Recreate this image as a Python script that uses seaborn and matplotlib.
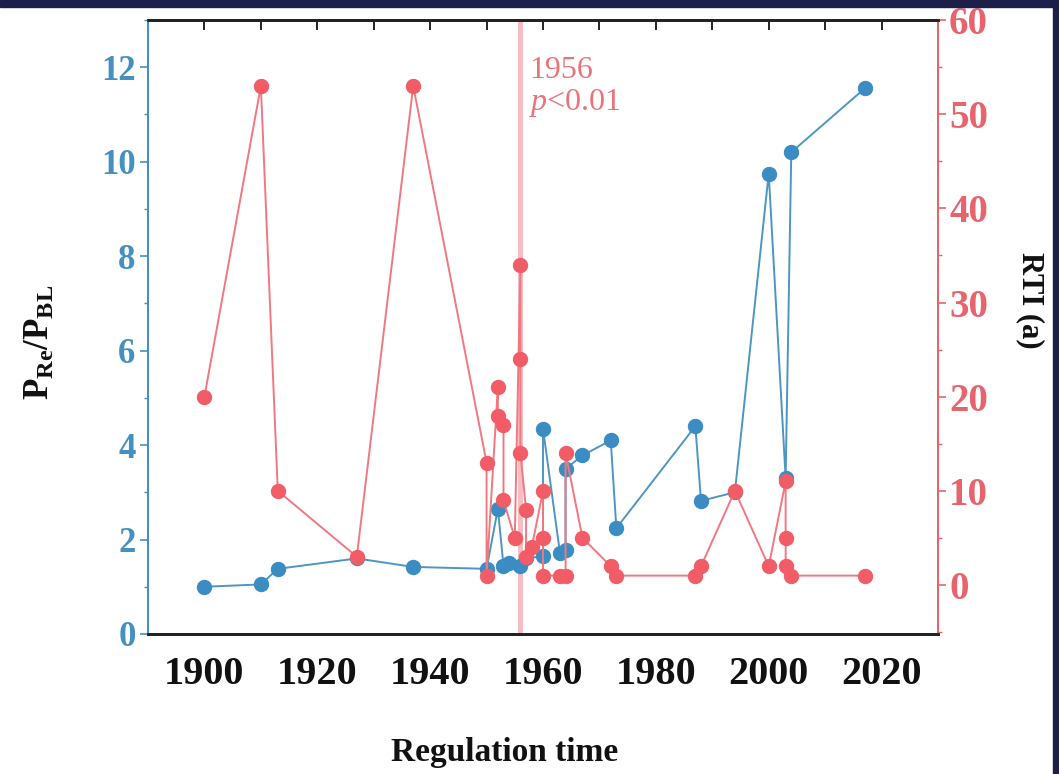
import matplotlib
matplotlib.use("Agg")
import matplotlib.pyplot as plt
from matplotlib.ticker import MultipleLocator
from matplotlib.patches import Rectangle
import numpy as np
import pandas as pd
import seaborn as sns

# P_Re / P_BL ratio by regulation year
ratio_years = [1900, 1910, 1913, 1927, 1937, 1950, 1952, 1953, 1954, 1956, 1957,
               1960, 1960, 1963, 1964, 1964, 1967, 1972, 1973, 1987, 1988, 1994,
               2000, 2003, 2004, 2017]
ratio_values = [1.0, 1.05, 1.38, 1.6, 1.42, 1.38, 2.65, 1.45, 1.5, 1.45, 1.6,
                1.65, 4.35, 1.72, 1.78, 3.5, 3.78, 4.1, 2.24, 4.4, 2.82, 3.0,
                9.75, 3.3, 10.2, 11.55]

# RTI (years) by regulation year
rti_years = [1900, 1910, 1913, 1927, 1937, 1950, 1950, 1952, 1952, 1953, 1953,
             1955, 1956, 1956, 1956, 1957, 1957, 1958, 1960, 1960, 1960, 1963,
             1964, 1964, 1967, 1972, 1973, 1987, 1988, 1994, 2000, 2003, 2003,
             2003, 2004, 2017]
rti_values = [20, 53, 10, 3, 53, 13, 1, 21, 18, 17, 9,
              5, 34, 24, 14, 8, 3, 4, 10, 5, 1, 1,
              1, 14, 5, 2, 1, 1, 2, 10, 2, 11, 5,
              2, 1, 1]

change_year = 1956
change_labels = ["1956", r"$\mathit{p}$<0.01"]

x_ticks = [1900, 1920, 1940, 1960, 1980, 2000, 2020]
left_ticks = [0, 2, 4, 6, 8, 10, 12]
right_ticks = [0, 10, 20, 30, 40, 50, 60]

BLUE = "#3a8cc3"
BLUE_LINE = "#4e96c2"
BLUE_TXT = "#4490c0"
RED = "#f25c66"
RED_LINE = "#f07880"
RED_TXT = "#e8646c"
PINK = "#f6adb3"

sns.set_theme(style="white")
plt.rcParams["font.family"] = ["Liberation Serif", "DejaVu Serif"]
plt.rcParams["mathtext.fontset"] = "custom"
plt.rcParams["mathtext.rm"] = "Liberation Serif"
plt.rcParams["mathtext.it"] = "Liberation Serif:italic"
plt.rcParams["mathtext.bf"] = "Liberation Serif:bold"

ratio_df = pd.DataFrame({"year": ratio_years, "ratio": ratio_values})
rti_df = pd.DataFrame({"year": rti_years, "rti": rti_values})

W, H = 1059, 774
fig = plt.figure(figsize=(W / 100, H / 100), dpi=100)
fig.patch.set_facecolor("white")
ax = fig.add_axes([148 / W, 1 - 634 / H, (938 - 148) / W, (634 - 20) / H])
ax2 = ax.twinx()

# change-point marker
ax.axvline(change_year, color=PINK, lw=3.6, alpha=0.8, zorder=1)

sns.lineplot(data=ratio_df, x="year", y="ratio", ax=ax, sort=False,
             estimator=None, color=BLUE_LINE, lw=1.4, marker="o",
             markersize=10.3, markerfacecolor=BLUE, markeredgecolor=BLUE,
             zorder=3)
sns.lineplot(data=rti_df, x="year", y="rti", ax=ax2, sort=False,
             estimator=None, color=RED_LINE, lw=1.4, marker="o",
             markersize=10.3, markerfacecolor=RED, markeredgecolor=RED,
             zorder=3)

ax.set_xlim(1890, 2030)
ax.set_ylim(0, 13)
ax2.set_ylim(-5.2, 60)

ax.set_xticks(x_ticks)
ax.set_xticklabels([str(t) for t in x_ticks])
ax.xaxis.set_minor_locator(MultipleLocator(10))
ax.set_yticks(left_ticks)
ax.set_yticklabels([str(t) for t in left_ticks])
ax.yaxis.set_minor_locator(MultipleLocator(1))
ax2.set_yticks(right_ticks)
ax2.set_yticklabels([str(t) for t in right_ticks])
ax2.yaxis.set_minor_locator(MultipleLocator(5))

# bottom axis ticks point outward
ax.tick_params(axis="x", which="major", direction="out", length=7, width=1.6,
               color="#222222", labelsize=29, pad=9)
ax.tick_params(axis="x", which="minor", direction="out", length=4, width=1.4,
               color="#222222")
for lab in ax.get_xticklabels():
    lab.set_fontweight("bold")
    lab.set_color("#111111")

ax.tick_params(axis="y", which="major", direction="out", length=6, width=1.2,
               color=BLUE_TXT, labelsize=25, labelcolor=BLUE_TXT, pad=3)
ax.tick_params(axis="y", which="minor", direction="out", length=3, width=1.0,
               color=BLUE_TXT)
for lab in ax.get_yticklabels():
    lab.set_fontweight("bold")

ax2.tick_params(axis="y", which="major", direction="out", length=6, width=1.2,
                color=RED_TXT, labelsize=28, labelcolor=RED_TXT, pad=2)
ax2.tick_params(axis="y", which="minor", direction="out", length=3, width=1.0,
                color=RED_TXT)
for lab in ax2.get_yticklabels():
    lab.set_fontweight("bold")

# top axis ticks point inward
ax_top = ax.secondary_xaxis("top")
ax_top.set_xticks(np.arange(1900, 2030, 10))
ax_top.tick_params(direction="in", length=7, width=1.4, color="#222222",
                   labelsize=0, labeltop=False)
ax_top.spines["top"].set_visible(False)
ax.tick_params(axis="x", which="both", top=False)

for sp_ax in (ax, ax2):
    sp_ax.spines["top"].set_color("#222222")
    sp_ax.spines["top"].set_linewidth(2)
    sp_ax.spines["bottom"].set_color("#222222")
    sp_ax.spines["bottom"].set_linewidth(2)
    sp_ax.spines["left"].set_color(BLUE_TXT)
    sp_ax.spines["left"].set_linewidth(1.4)
    sp_ax.spines["right"].set_color(RED_TXT)
    sp_ax.spines["right"].set_linewidth(1.4)
ax.grid(False)
ax2.grid(False)

ax.set_xlabel("Regulation time", fontsize=24, fontweight="bold", color="#111111")
ax.xaxis.set_label_coords(0.452, -0.168)
ax.set_ylabel(r"$\mathbf{P_{Re}/P_{BL}}$", fontsize=25, color="#111111")
ax.yaxis.set_label_coords(-0.115, 0.475)
ax2.set_ylabel("RTI (a)", fontsize=22, fontweight="bold", color="#111111",
               rotation=270)
ax2.yaxis.set_label_coords(1.135, 0.544)

ax.text(change_year + 1.6, 12.23, change_labels[0], fontsize=23, color=RED_TXT,
        ha="left", va="top", alpha=0.9)
ax.text(change_year + 1.6, 11.58, change_labels[1], fontsize=23, color=RED_TXT,
        ha="left", va="top", alpha=0.9)

# dark frame along the top and right edges
fig.patches.append(Rectangle((0, 1 - 7 / H), 1, 7 / H, transform=fig.transFigure,
                             color="#1c1f4a", zorder=10))
fig.patches.append(Rectangle((1 - 6 / W, 0), 6 / W, 1, transform=fig.transFigure,
                             color="#1c1f4a", zorder=10))

fig.savefig("out.png", dpi=100)
